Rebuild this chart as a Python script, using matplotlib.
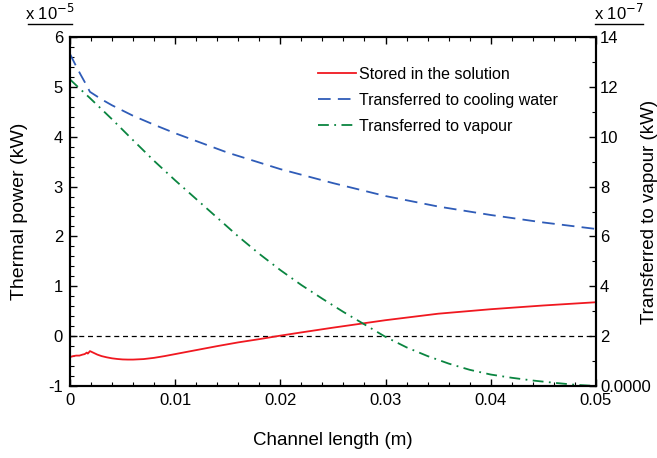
import matplotlib.pyplot as plt
from matplotlib.lines import Line2D
from matplotlib.ticker import MultipleLocator
import numpy as np

plt.rcParams['font.family'] = ['Liberation Sans', 'DejaVu Sans']

# Channel length (m) and thermal power, left axis in 1e-5 kW
x_stored = [0.0, 0.0003, 0.0006, 0.0009, 0.0012, 0.0014, 0.0016, 0.0017, 0.0019,
            0.0022, 0.0026, 0.003, 0.0035, 0.004, 0.0045, 0.005, 0.0055, 0.006,
            0.007, 0.008, 0.009, 0.01, 0.012, 0.014, 0.016, 0.018, 0.02, 0.022,
            0.025, 0.028, 0.03, 0.035, 0.04, 0.045, 0.05]
stored = [-0.42, -0.40, -0.39, -0.39, -0.37, -0.36, -0.33, -0.35, -0.30,
          -0.33, -0.37, -0.40, -0.425, -0.445, -0.458, -0.467, -0.47, -0.47,
          -0.46, -0.435, -0.40, -0.36, -0.28, -0.20, -0.125, -0.06, 0.01, 0.075,
          0.17, 0.26, 0.32, 0.45, 0.54, 0.615, 0.68]

x_cooling = [0.0, 0.0005, 0.001, 0.0015, 0.0019, 0.003, 0.004, 0.006, 0.008,
             0.01, 0.015, 0.02, 0.025, 0.03, 0.035, 0.04, 0.045, 0.05]
cooling = [5.66, 5.45, 5.25, 5.06, 4.90, 4.75, 4.63, 4.42, 4.24,
           4.07, 3.68, 3.35, 3.07, 2.81, 2.60, 2.43, 2.28, 2.15]

# Transferred to vapour, right axis in 1e-7 kW
x_vapour = [0.0, 0.001, 0.0019, 0.004, 0.006, 0.008, 0.01, 0.012, 0.014, 0.016,
            0.018, 0.02, 0.022, 0.024, 0.026, 0.028, 0.03, 0.032, 0.034, 0.036,
            0.038, 0.04, 0.042, 0.044, 0.046, 0.048, 0.05]
vapour = [12.3, 11.9, 11.55, 10.7, 9.86, 9.03, 8.25, 7.5, 6.75, 6.0,
          5.3, 4.65, 4.05, 3.5, 2.97, 2.47, 1.97, 1.55, 1.2, 0.9,
          0.65, 0.46, 0.33, 0.22, 0.13, 0.05, 0.0]

x_ticks = [0, 0.01, 0.02, 0.03, 0.04, 0.05]
x_tick_labels = ['0', '0.01', '0.02', '0.03', '0.04', '0.05']
left_ticks = [-1, 0, 1, 2, 3, 4, 5, 6]
right_ticks = [0, 2, 4, 6, 8, 10, 12, 14]
right_tick_labels = ['0.0000', '2', '4', '6', '8', '10', '12', '14']

RED = '#f01820'
BLUE = '#2f5cb8'
GREEN = '#0a8540'

fig = plt.figure(figsize=(6.57, 4.58), dpi=100)
ax = fig.add_axes([0.1065, 0.1572, 0.8005, 0.762])
ax2 = ax.twinx()

ax.axhline(0, color='black', lw=0.9, ls=(0, (4, 3)))
ax.plot(x_stored, stored, color=RED, lw=1.3, label='Stored in the solution')
ax.plot(x_cooling, cooling, color=BLUE, lw=1.3, ls=(0, (7, 4)),
        label='Transferred to cooling water')
ax2.plot(x_vapour, vapour, color=GREEN, lw=1.3, ls=(0, (6, 3, 1, 3)),
         label='Transferred to vapour')

ax.set_xlim(0, 0.05)
ax.set_ylim(-1, 6)
ax2.set_ylim(0, 14)

ax.set_xticks(x_ticks)
ax.set_xticklabels(x_tick_labels)
ax.set_yticks(left_ticks)
ax.set_yticklabels([str(t) for t in left_ticks])
ax2.set_yticks(right_ticks)
ax2.set_yticklabels(right_tick_labels)

ax.xaxis.set_minor_locator(MultipleLocator(0.002))
ax.yaxis.set_minor_locator(MultipleLocator(0.2))
ax2.yaxis.set_minor_locator(MultipleLocator(1))

ax.tick_params(which='both', direction='in', top=True, right=False,
               labelsize=12, pad=5)
ax.tick_params(which='major', length=5, width=1)
ax.tick_params(which='minor', length=3, width=0.8)
ax2.tick_params(which='both', direction='in', labelsize=12, pad=3)
ax2.tick_params(which='major', length=5, width=1)
ax2.tick_params(which='minor', length=3, width=0.8)

for a in (ax, ax2):
    for s in a.spines.values():
        s.set_linewidth(1.5)

ax.set_xlabel('Channel length (m)', fontsize=13.5)
ax.xaxis.set_label_coords(0.5, -0.132)
ax.set_ylabel('Thermal power (kW)', fontsize=14)
ax.yaxis.set_label_coords(-0.080, 0.5)
ax2.set_ylabel('Transferred to vapour (kW)', fontsize=13.5, rotation=90)
ax2.yaxis.set_label_coords(1.085, 0.5)

# scale factors above both y axes
fig.text(0.076, 0.971, r'x 10$^{-5}$', fontsize=12, ha='center', va='center')
fig.add_artist(Line2D([0.043, 0.11], [0.947, 0.947], color='black', lw=1))
fig.text(0.942, 0.971, r'x 10$^{-7}$', fontsize=12, ha='center', va='center')
fig.add_artist(Line2D([0.906, 0.978], [0.947, 0.947], color='black', lw=1))

handles = ax.get_lines()[1:] + ax2.get_lines()
ax2.legend(handles, [h.get_label() for h in handles], loc='upper left',
           bbox_to_anchor=(0.444, 0.955), frameon=False, fontsize=11.5,
           handlelength=2.4, handletextpad=0.15, labelspacing=0.68)

fig.savefig('out.png', dpi=100)
